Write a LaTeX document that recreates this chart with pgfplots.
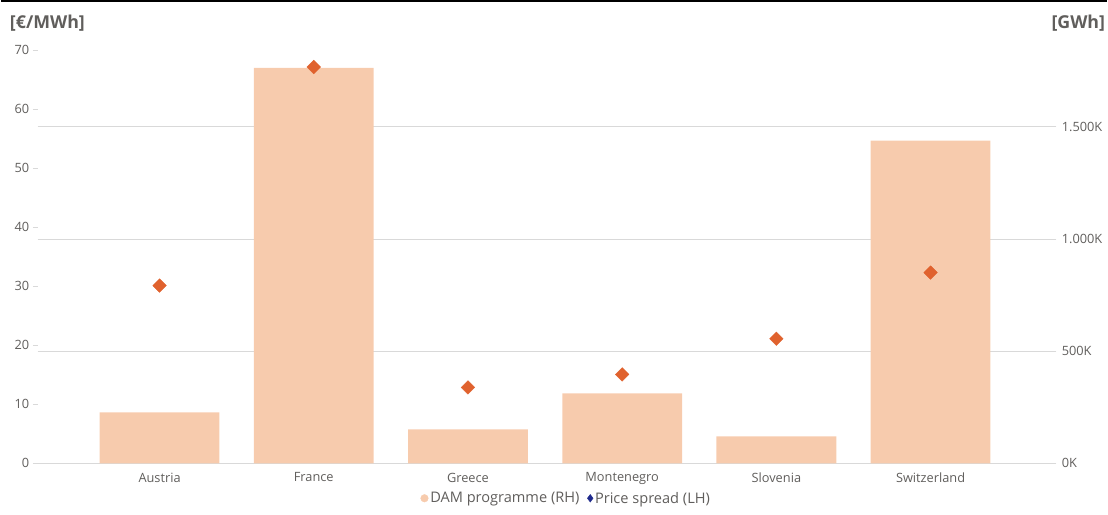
\documentclass[border=0pt]{standalone}
\usepackage{fontspec}
\setmainfont{Open Sans}
\usepackage{pgfplots}
\pgfplotsset{compat=1.18}
\definecolor{barc}{HTML}{F7CBAD}
\definecolor{ptc}{HTML}{E0622E}
\definecolor{txt}{HTML}{605E5C}
\definecolor{gridc}{HTML}{D9D9D9}
\definecolor{navy}{HTML}{1F2A8C}
\begin{document}
\begin{tikzpicture}[x=1bp,y=1bp]
\path (0,0) rectangle (1108,515);
\draw[black, line width=1.6bp] (0,514.2) -- (1108,514.2);
\node[anchor=west, font=\fontsize{17.8bp}{19bp}\selectfont\bfseries, text=txt, inner sep=0] at (9,492) {[€/MWh]};
\node[anchor=east, font=\fontsize{17.8bp}{19bp}\selectfont\bfseries, text=txt, inner sep=0] at (1106,492) {[GWh]};
\begin{axis}[at={(37bp,51bp)}, anchor=south west, scale only axis,
  width=1013bp, height=414bp,
  xmin=-0.79, xmax=5.77, ymin=0, ymax=1842.7,
  axis y line*=right, axis x line*=bottom,
  x axis line style={draw=gridc, line width=0.8bp, -},
  y axis line style={draw=none},
  xtick={0,1,2,3,4,5},
  xticklabels={Austria,France,Greece,Montenegro,Slovenia,Switzerland},
  x tick style={draw=none},
  ytick={0,500,1000,1500},
  yticklabels={0K,500K,1.000K,1.500K},
  y tick style={draw=gridc, line width=0.8bp},
  tick align=outside, major tick length=7bp,
  ymajorgrids, grid style={draw=gridc, line width=0.8bp},
  ticklabel style={font=\fontsize{12.8bp}{14bp}\selectfont, text=txt},
  yticklabel style={xshift=2bp},
  xticklabel style={yshift=1bp},
  clip=false,
]
\addplot[ybar, bar width=120bp, bar shift=0pt, fill=barc, draw=none] coordinates {
(0,227) (1,1763) (2,151) (3,312) (4,120) (5,1438)};
\end{axis}
\begin{axis}[at={(37bp,51bp)}, anchor=south west, scale only axis,
  width=1013bp, height=414bp,
  xmin=-0.79, xmax=5.77, ymin=0, ymax=70,
  axis y line*=left, axis x line=none,
  y axis line style={draw=none},
  ytick={0,10,...,70},
  y tick style={draw=gridc, line width=0.8bp},
  tick align=outside, major tick length=5bp,
  ticklabel style={font=\fontsize{12.8bp}{14bp}\selectfont, text=txt},
  /pgf/number format/assume math mode=true,
  clip=false,
  legend columns=2,
  legend style={at={(0.5225,-0.0845)}, anchor=center, draw=none, fill=none,
    font=\fontsize{14.6bp}{16bp}\selectfont, text=txt,
    /tikz/every even column/.append style={column sep=6bp},
    inner sep=0pt},
  legend cell align=left,
]
\addlegendimage{only marks, mark=*, mark size=3.8bp, mark options={fill=barc, draw=barc}}
\addlegendentry{DAM programme (RH)}
\addlegendimage{only marks, mark=diamond*, mark size=3.8bp, mark options={fill=navy, draw=navy}}
\addlegendentry{Price spread (LH)}
\addplot[only marks, mark=square*, mark size=4.8bp, mark options={fill=ptc, draw=ptc, rotate=45}, forget plot] coordinates {
(0,30.1) (1,67.1) (2,12.85) (3,15.05) (4,21.1) (5,32.3)};
\end{axis}
\end{tikzpicture}
\end{document}
